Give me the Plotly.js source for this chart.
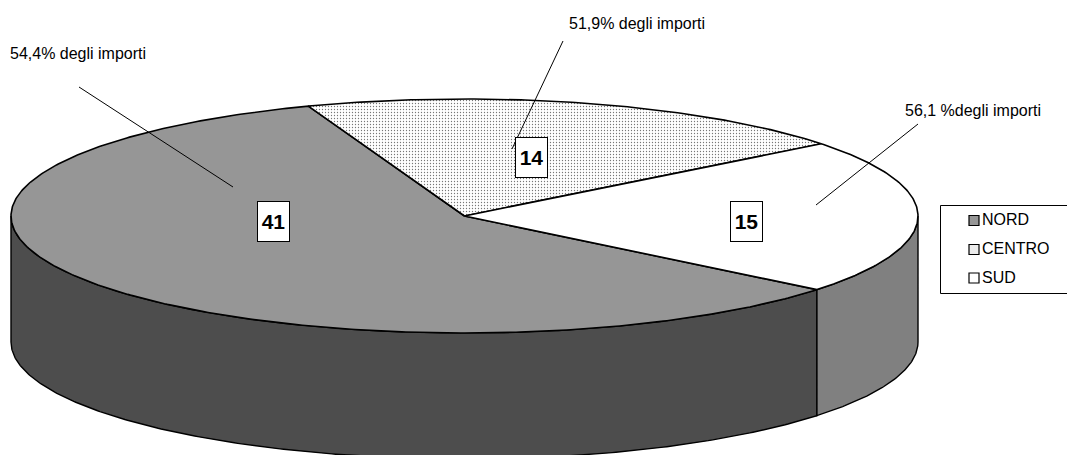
<!DOCTYPE html>
<html>
<head>
<meta charset="utf-8">
<script src="https://cdn.plot.ly/plotly-3.0.1.min.js"></script>
<style>html,body{margin:0;padding:0;background:#fff;overflow:hidden}#chart{width:1067px;height:455px}</style>
</head>
<body>
<div id="chart"></div>
<script>
// Contract counts per macro-area and the share of amounts each one represents
const categories = ['NORD', 'CENTRO', 'SUD'];
const counts = [41, 14, 15];
const shareLabels = ['54,4% degli importi', '51,9% degli importi', '56,1 %degli importi'];

// Slice fills on the top face and on the cylinder side
const topFills = ['#969696', '#ffffff', '#ffffff'];
const wallFills = ['#4d4d4d', '#808080', '#808080'];

// Tilted disc geometry in page pixels
const disc = {cx: 464.5, cy: 216, rx: 453.5, ry: 117, depth: 126, startDeg: -39.0};

// Boxed counts, share captions and their leader lines, in page pixels
const countBoxes = [[273, 221.5], [531, 157.5], [746, 221.5]];
const captions = [[8, 53], [567, 23], [903, 110]];
const leaders = [[79, 87, 233, 187], [563, 41, 512, 149], [918, 124, 816, 205]];

const rad = d => d * Math.PI / 180;
const rimX = t => disc.cx + disc.rx * Math.cos(rad(t));
const rimY = t => disc.cy - disc.ry * Math.sin(rad(t));

function arc(from, to) {
  const n = Math.max(2, Math.ceil(Math.abs(to - from) * 2));
  return Array.from({length: n + 1}, (_, i) => from + (to - from) * i / n);
}

// Slices run clockwise from the start angle
const total = counts.reduce((a, b) => a + b, 0);
let cursor = disc.startDeg;
const slices = counts.map((v, i) => {
  const from = cursor;
  cursor -= v / total * 360;
  return {i, from, to: cursor};
});

const traces = [];

// Side wall: only the part of a slice that faces the viewer (lower half of the rim)
slices.forEach(s => {
  const lo = Math.max(s.to, -180), hi = Math.min(s.from, 0);
  const parts = [[lo, hi]];
  if (s.to < -180) parts.push([s.to, Math.min(s.from, -360)]);
  parts.filter(p => p[1] > p[0]).forEach(p => {
    const a = arc(p[1], p[0]);
    const xs = a.map(rimX), ys = a.map(rimY);
    const back = a.slice().reverse();
    traces.push({
      type: 'scatter', mode: 'lines', fill: 'toself', hoverinfo: 'skip', showlegend: false,
      x: xs.concat(back.map(rimX), [xs[0]]),
      y: ys.concat(back.map(t => rimY(t) + disc.depth), [ys[0]]),
      fillcolor: wallFills[s.i],
      line: {color: '#000', width: 1.4}
    });
  });
});

// Top face of each slice
slices.forEach(s => {
  const a = arc(s.from, s.to);
  const t = {
    type: 'scatter', mode: 'lines', fill: 'toself', hoverinfo: 'skip', showlegend: false,
    name: categories[s.i],
    x: [disc.cx].concat(a.map(rimX), [disc.cx]),
    y: [disc.cy].concat(a.map(rimY), [disc.cy]),
    fillcolor: topFills[s.i],
    line: {color: '#000', width: 1.6}
  };
  if (categories[s.i] === 'CENTRO') {
    t.fillpattern = {shape: '.', size: 3, solidity: 0.15, fgcolor: '#777', bgcolor: '#fff'};
  }
  traces.push(t);
});

// Leader lines from each slice to its caption
leaders.forEach(l => traces.push({
  type: 'scatter', mode: 'lines', hoverinfo: 'skip', showlegend: false,
  x: [l[0], l[2]], y: [l[1], l[3]], line: {color: '#000', width: 1}
}));

// Key at the right of the disc: swatches, then their names
const keyY = [220.5, 249.5, 278];
traces.push({
  type: 'scatter', mode: 'markers', hoverinfo: 'skip', showlegend: false,
  x: categories.map(() => 974), y: keyY,
  marker: {
    symbol: 'square', size: 10, color: ['#969696', '#ececec', '#ffffff'],
    line: {color: '#000', width: 1.2}
  }
});
traces.push({
  type: 'scatter', mode: 'text', hoverinfo: 'skip', showlegend: false,
  x: categories.map(() => 982), y: keyY.map(y => y + 0.5),
  text: categories, textposition: 'middle right',
  textfont: {family: 'Liberation Sans, Arial, sans-serif', size: 16, color: '#000'}
});

const annotations = [];
counts.forEach((v, i) => annotations.push({
  x: countBoxes[i][0], y: countBoxes[i][1], xref: 'x', yref: 'y', showarrow: false,
  text: '<b>' + v + '</b>', width: 31, height: 39, borderpad: 0, borderwidth: 1,
  bordercolor: '#000', bgcolor: '#fff',
  font: {family: 'Liberation Sans, Arial, sans-serif', size: 21, color: '#000'}
}));
shareLabels.forEach((t, i) => annotations.push({
  x: captions[i][0], y: captions[i][1], xref: 'x', yref: 'y', showarrow: false,
  xanchor: 'left', yanchor: 'middle', text: t,
  font: {family: 'Liberation Sans, Arial, sans-serif', size: 16, color: '#000'}
}));

const hidden = {visible: false, fixedrange: true};
Plotly.newPlot('chart', traces, {
  width: 1067, height: 455,
  margin: {l: 0, r: 0, t: 0, b: 0},
  paper_bgcolor: '#fff', plot_bgcolor: '#fff',
  showlegend: false,
  xaxis: Object.assign({range: [0, 1067]}, hidden),
  yaxis: Object.assign({range: [455, 0]}, hidden),
  annotations,
  shapes: [{
    type: 'rect', xref: 'x', yref: 'y', x0: 940.5, x1: 1075, y0: 205.5, y1: 293.5,
    line: {color: '#000', width: 1}, fillcolor: '#fff', layer: 'below'
  }]
}, {displayModeBar: false, staticPlot: true});
</script>
</body>
</html>
